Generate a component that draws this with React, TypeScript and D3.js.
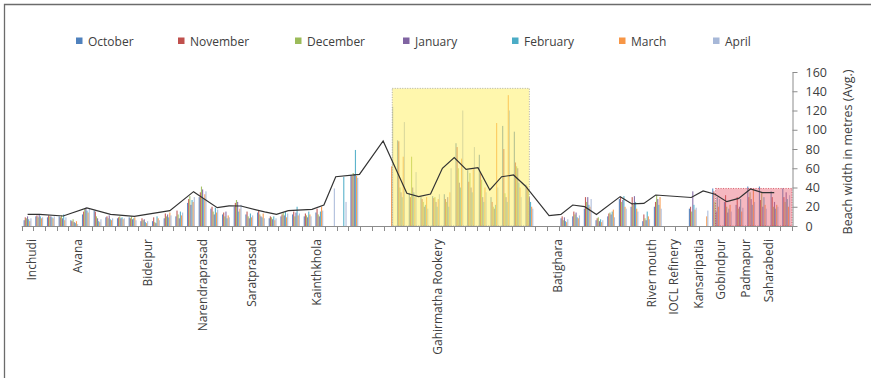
import { useEffect, useRef } from 'react'
import * as d3 from 'd3'

const W = 871
const H = 378

const MONTHS = ['October', 'November', 'December', 'January', 'February', 'March', 'April']
const COLORS = ['#4F81BD', '#C0504D', '#9BBB59', '#8064A2', '#4BACC6', '#F79646', '#A7B8D8']
const LEGEND_X = [76, 178, 295, 403, 512, 619, 713]

// 66 stations along the coast; names were placed by hand, so their
// position is kept as a (fractional) station index
const N_SITES = 66
const SITE_POS = [0.3, 4.24, 10.24, 15, 19.23, 24.8, 35.1, 45.45, 53.43, 55.31, 57.45, 59.34, 61.48, 63.45]
const SITE_NAMES = [
  'Inchudi', 'Avana', 'Bideipur', 'Narendraprasad', 'Saratprasad', 'Kainthkhola',
  'Gahirmatha Rookery', 'Batighara', 'River  mouth', 'IOCL Refinery', 'Kansaripatia',
  'Gobindpur', 'Padmapur', 'Saharabedi',
]

const OCT = [6, 10, 9, 10, 6, 12, 16, 9, 8, 9, 5, 5, 8, 10, 24, 30, 18, 12, 20, 12, 14, 8, 10, 12, 10, 14, 0, 0, 53, 0, 0, 0, 89, 34, 30, 31, 33, 86, 58, 74, 30, 104, 98, 43, 0, 0, 8, 10, 18, 6, 10, 28, 20, 5, 20, 0, 0, 18, 0, 39, 25, 22, 41, 41, 36, 39]
const NOV = [9, 11, 11, 9, 5, 15, 15, 10, 9, 8, 8, 9, 13, 16, 28, 35, 20, 14, 24, 15, 16, 10, 12, 15, 13, 18, 0, 0, 52, 0, 0, 0, 88, 30, 28, 29, 28, 82, 46, 56, 25, 80, 66, 41, 0, 0, 10, 15, 30, 8, 13, 30, 30, 12, 25, 0, 0, 20, 0, 36, 32, 30, 30, 27, 30, 30]
const DEC = [8, 9, 10, 11, 7, 18, 10, 8, 10, 10, 6, 4, 10, 12, 31, 41, 15, 10, 27, 10, 12, 9, 14, 10, 11, 12, 0, 0, 55, 0, 0, 0, 40, 72, 25, 30, 25, 60, 55, 48, 20, 34, 62, 38, 0, 0, 6, 12, 25, 9, 14, 25, 22, 8, 32, 0, 0, 15, 0, 25, 20, 18, 35, 35, 20, 25]
const JAN = [10, 12, 10, 8, 4, 19, 8, 11, 8, 7, 7, 3, 12, 8, 22, 38, 12, 15, 25, 8, 10, 7, 11, 14, 9, 10, 0, 0, 54, 0, 0, 0, 35, 40, 20, 25, 30, 45, 40, 30, 18, 30, 60, 30, 0, 0, 9, 14, 30, 5, 12, 27, 31, 6, 28, 0, 0, 36, 0, 15, 14, 20, 28, 20, 25, 35]
const FEB = [7, 10, 9, 12, 3, 16, 5, 7, 9, 8, 4, 10, 9, 15, 27, 28, 19, 8, 15, 13, 9, 10, 15, 20, 15, 15, 0, 51, 79, 0, 0, 0, 30, 35, 22, 20, 20, 40, 35, 25, 22, 25, 45, 25, 0, 0, 5, 9, 22, 7, 15, 31, 25, 15, 22, 0, 0, 22, 0, 30, 18, 28, 22, 30, 18, 28]
const MAR = [5, 8, 8, 6, 5, 14, 4, 6, 7, 9, 3, 8, 14, 11, 25, 33, 14, 11, 18, 9, 13, 6, 9, 11, 12, 20, 0, 0, 52, 0, 0, 62, 72, 30, 30, 28, 35, 70, 60, 40, 107, 136, 40, 20, 0, 0, 4, 8, 20, 4, 17, 20, 18, 10, 30, 0, 0, 17, 10, 20, 22, 15, 38, 22, 22, 20]
const APR = [8, 9, 10, 9, 2, 18, 7, 8, 8, 6, 5, 6, 11, 14, 30, 36, 17, 9, 22, 11, 8, 8, 13, 13, 10, 16, 39, 25, 50, 0, 0, 124, 108, 56, 18, 33, 60, 120, 82, 35, 40, 120, 30, 18, 0, 0, 7, 11, 28, 6, 9, 18, 15, 7, 18, 0, 0, 19, 16, 28, 15, 19, 25, 18, 20, 32]
const SERIES = [OCT, NOV, DEC, JAN, FEB, MAR, APR]

// average line on its own (secondary) category axis of 65 points, null where no point
const n = null
const AVG = [12.1, 12, n, 10.4, n, 18.7, n, 12.1, n, 10, n, n, 15.9, n, 35.7, n, 19, 21, 20.8, n, 14.6, 12.1, 15.9, n, 17.3, 21.8, 51.2, n, 53.7, n, 88.3, n, 34, 30.5, 33.2, 59.9, 71, 58.9, 60.6, 37.4, 51.2, 53, 41.6, n, 10.7, 12, 21.8, 20.1, 12, n, 30.5, 22.9, 23.5, 32.2, n, n, 29.6, 36.4, 33, 25.3, 28.7, 38.4, 34.6, 34.6, n]

const Y_TICKS = [0, 20, 40, 60, 80, 100, 120, 140, 160]

// shaded stretches: start/end as fractional station index, top in metres
const ZONES = [
  { from: 31.75, to: 43.5, top: 143, fill: '#FFF06A', opacity: 0.55, stroke: '#9a9a9a' },
  { from: 59.45, to: 66, top: 39, fill: '#E8566A', opacity: 0.42, stroke: '#d04050' },
]

const FONT = '"Open Sans", "DejaVu Sans", sans-serif'
const TEXT = '#404040'

function App() {
  const ref = useRef<SVGSVGElement | null>(null)

  useEffect(() => {
    const svg = d3.select(ref.current)
    svg.selectAll('*').remove()

    const left = 21.7
    const right = 792
    const x = d3.scaleBand<number>().domain(d3.range(N_SITES)).range([left, right]).padding(0)
    const xm = d3.scaleBand<number>().domain(d3.range(7)).range([1.9, x.bandwidth() - 1.9])
    const xi = d3.scaleLinear().domain([0, N_SITES]).range([left, right])
    const x2 = d3.scaleBand<number>().domain(d3.range(AVG.length)).range([left, right]).padding(0)
    const y = d3.scaleLinear().domain([0, 160]).range([226, 72])

    // frame
    svg.append('path').attr('d', `M4.5,378V4.5H871`).attr('fill', 'none').attr('stroke', '#6b6b6b').attr('stroke-width', 1.3)

    // legend
    const leg = svg.append('g').attr('font-family', FONT).attr('font-size', 12).attr('fill', TEXT)
    MONTHS.forEach((m, k) => {
      leg.append('rect').attr('x', LEGEND_X[k]).attr('y', 37.5).attr('width', 6.5).attr('height', 6.5).attr('fill', COLORS[k])
      leg.append('text').attr('x', LEGEND_X[k] + 12).attr('y', 45.5).text(m)
    })

    // bars
    SERIES.forEach((vals, m) => {
      svg
        .append('g')
        .selectAll('rect')
        .data(vals.map((v, i) => ({ v, i })).filter((d) => d.v > 0))
        .enter()
        .append('rect')
        .attr('x', (d) => (x(d.i) as number) + (xm(m) as number))
        .attr('width', xm.bandwidth())
        .attr('y', (d) => y(d.v))
        .attr('height', (d) => y(0) - y(d.v))
        .attr('fill', COLORS[m])
        .attr('opacity', 0.9)
    })

    // highlighted zones
    ZONES.forEach((z) => {
      svg
        .append('rect')
        .attr('x', xi(z.from))
        .attr('width', xi(z.to) - xi(z.from))
        .attr('y', y(z.top))
        .attr('height', y(0) - y(z.top))
        .attr('fill', z.fill)
        .attr('fill-opacity', z.opacity)
        .attr('stroke', z.stroke)
        .attr('stroke-width', 0.8)
        .attr('stroke-dasharray', '1,1.5')
    })

    // average line
    const pts = AVG.map((v, i) => ({ v, i })).filter((d) => d.v !== null) as { v: number; i: number }[]
    const line = d3
      .line<{ v: number; i: number }>()
      .x((d) => (x2(d.i) as number) + x2.bandwidth() / 2)
      .y((d) => y(d.v))
    svg.append('path').attr('d', line(pts)).attr('fill', 'none').attr('stroke', '#333').attr('stroke-width', 1.2)

    // x axis
    const xa = svg.append('g').attr('stroke', '#8c8c8c').attr('stroke-width', 1)
    xa.append('line').attr('x1', left).attr('x2', right).attr('y1', y(0) + 0.5).attr('y2', y(0) + 0.5)
    d3.range(N_SITES + 1).forEach((i) => {
      const px = Math.round(xi(i)) + 0.5
      xa.append('line').attr('x1', px).attr('x2', px).attr('y1', y(0)).attr('y2', y(0) + 5)
    })

    const xl = svg.append('g').attr('font-family', FONT).attr('font-size', 12).attr('fill', TEXT)
    SITE_POS.forEach((p, k) => {
      const cx = xi(p + 0.5) + 4.5
      xl.append('text')
        .attr('transform', `translate(${cx},${y(0) + 13}) rotate(-90)`)
        .attr('text-anchor', 'end')
        .text(SITE_NAMES[k])
    })

    // y axis (right)
    svg
      .append('g')
      .attr('transform', `translate(${right + 0.5},0)`)
      .call(d3.axisRight(y).tickValues(Y_TICKS).tickSize(5).tickPadding(8).tickSizeOuter(0))
      .call((g) => g.selectAll('path,line').attr('stroke', '#8c8c8c'))
      .call((g) => g.selectAll('text').attr('font-family', FONT).attr('font-size', 12.5).attr('fill', TEXT))

    svg
      .append('text')
      .attr('transform', `translate(852,${(y(0) + y(160)) / 2 + 3}) rotate(-90)`)
      .attr('text-anchor', 'middle')
      .attr('font-family', FONT)
      .attr('font-size', 12.5)
      .attr('fill', TEXT)
      .text('Beach width in metres (Avg.)')
  }, [])

  return (
    <svg
      ref={ref}
      width={W}
      height={H}
      viewBox={`0 0 ${W} ${H}`}
      style={{ position: 'absolute', left: 0, top: 0, background: '#fff' }}
    />
  )
}

export default App
